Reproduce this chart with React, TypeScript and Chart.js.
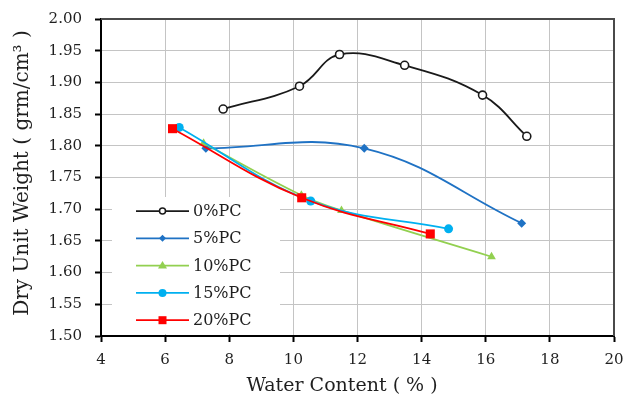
import React, { useEffect, useRef } from "react";
import { Chart, registerables } from "chart.js";
Chart.register(...registerables);

// ---- data ----
const seriesNames = ["0%PC", "5%PC", "10%PC", "15%PC", "20%PC"];
const water0 = [7.81, 10.19, 11.44, 13.47, 15.9, 17.28];
const dry0 = [1.858, 1.894, 1.944, 1.927, 1.88, 1.815];
const water5 = [7.27, 12.21, 17.12];
const dry5 = [1.796, 1.796, 1.678];
const water10 = [7.2, 10.25, 11.5, 16.18];
const dry10 = [1.804, 1.722, 1.698, 1.625];
const water15 = [6.44, 10.54, 14.84];
const dry15 = [1.829, 1.713, 1.669];
const water20 = [6.23, 10.26, 14.27];
const dry20 = [1.827, 1.718, 1.661];
const xTickValues = [4, 6, 8, 10, 12, 14, 16, 18, 20];
const yTickValues = [1.5, 1.55, 1.6, 1.65, 1.7, 1.75, 1.8, 1.85, 1.9, 1.95, 2.0];
const xTitle = "Water Content ( % )";
const yTitle = "Dry Unit Weight ( grm/cm\u00B3 )";

const colors = ["#1a1a1a", "#1f72c4", "#92D050", "#00B0F0", "#FF0000"];
const styles = ["circle", "rectRot", "triangle", "circle", "rect"];
const radii = [4, 4.5, 5, 4.5, 6.4];
const fills = ["#ffffff", "#1f72c4", "#92D050", "#00B0F0", "#FF0000"];

const toPts = (xs: number[], ys: number[]) => xs.map((x, i) => ({ x, y: ys[i] }));
const allData = [
  toPts(water0, dry0),
  toPts(water5, dry5),
  toPts(water10, dry10),
  toPts(water15, dry15),
  toPts(water20, dry20),
];

const FONT = "'DejaVu Serif', 'Liberation Serif', serif";
const TEXT = "#1f1f1f";

function drawMarker(ctx: CanvasRenderingContext2D, i: number, x: number, y: number) {
  ctx.save();
  ctx.fillStyle = fills[i];
  ctx.strokeStyle = colors[i];
  ctx.lineWidth = 1.5;
  ctx.beginPath();
  if (i === 0) {
    ctx.arc(x, y, 3, 0, Math.PI * 2);
    ctx.fill();
    ctx.stroke();
  } else if (i === 1) {
    ctx.moveTo(x, y - 3.5);
    ctx.lineTo(x + 3.5, y);
    ctx.lineTo(x, y + 3.5);
    ctx.lineTo(x - 3.5, y);
    ctx.closePath();
    ctx.fill();
  } else if (i === 2) {
    ctx.moveTo(x, y - 4.5);
    ctx.lineTo(x + 4.5, y + 3);
    ctx.lineTo(x - 4.5, y + 3);
    ctx.closePath();
    ctx.fill();
  } else if (i === 3) {
    ctx.arc(x, y, 4, 0, Math.PI * 2);
    ctx.fill();
  } else {
    ctx.rect(x - 4, y - 4, 8, 8);
    ctx.fill();
  }
  ctx.restore();
}

const framePlugin = {
  id: "frame",
  beforeDatasetsDraw(chart: any) {
    const { ctx, chartArea: a } = chart;
    ctx.save();
    ctx.strokeStyle = "#4a4a4a";
    ctx.lineWidth = 2;
    ctx.beginPath();
    ctx.moveTo(a.left, a.top);
    ctx.lineTo(a.right, a.top);
    ctx.lineTo(a.right, a.bottom);
    ctx.stroke();
    ctx.restore();
  },
};

const legendPlugin = {
  id: "insideLegend",
  afterDatasetsDraw(chart: any) {
    const { ctx, chartArea: a } = chart;
    ctx.save();
    ctx.fillStyle = "#ffffff";
    const bx = a.left + 11;
    const by = a.top + 178;
    ctx.fillRect(bx, by, 168, a.bottom - 2 - by);
    seriesNames.forEach((name, i) => {
      const y = a.top + 192 + i * 27.3;
      const x0 = a.left + 35;
      const x1 = a.left + 88;
      ctx.strokeStyle = colors[i];
      ctx.lineWidth = 1.75;
      ctx.beginPath();
      ctx.moveTo(x0, y);
      ctx.lineTo(x1, y);
      ctx.stroke();
      drawMarker(ctx, i, (x0 + x1) / 2, y);
      ctx.fillStyle = TEXT;
      ctx.font = `16px ${FONT}`;
      ctx.textBaseline = "middle";
      ctx.textAlign = "left";
      ctx.fillText(name, x1 + 4, y + 1);
    });
    ctx.restore();
  },
};

const titlePlugin = {
  id: "axisTitles",
  afterDraw(chart: any) {
    const { ctx, chartArea: a } = chart;
    ctx.save();
    ctx.fillStyle = TEXT;
    ctx.font = `19px ${FONT}`;
    ctx.textAlign = "center";
    ctx.textBaseline = "alphabetic";
    ctx.fillText(xTitle, a.left + 241, 391);
    ctx.font = `20px ${FONT}`;
    ctx.translate(28, a.top + 154);
    ctx.rotate(-Math.PI / 2);
    ctx.fillText(yTitle, 0, 0);
    ctx.restore();
  },
};

export default function App() {
  const ref = useRef<HTMLCanvasElement | null>(null);
  useEffect(() => {
    document.body.style.margin = "0";
    const canvas = ref.current!;
    const chart = new Chart(canvas, {
      type: "line",
      data: {
        datasets: seriesNames.map((name, i) => ({
          label: name,
          data: allData[i],
          borderColor: colors[i],
          backgroundColor: fills[i],
          borderWidth: 1.8,
          tension: 0.4,
          fill: false,
          pointStyle: styles[i] as any,
          pointRadius: radii[i],
          pointBorderColor: colors[i],
          pointBackgroundColor: fills[i],
          pointBorderWidth: i === 0 ? 1.6 : 0,
          order: 4 - i,
        })),
      },
      options: {
        animation: false,
        responsive: false,
        devicePixelRatio: 1,
        layout: { padding: { left: 0, top: 19, right: 11, bottom: 0 } },
        plugins: { legend: { display: false }, tooltip: { enabled: false } },
        scales: {
          x: {
            type: "linear",
            min: xTickValues[0],
            max: xTickValues[xTickValues.length - 1],
            afterBuildTicks: (s: any) => {
              s.ticks = xTickValues.map((v) => ({ value: v }));
            },
            afterFit: (s: any) => {
              s.height = 62;
              s.paddingLeft = 0;
              s.paddingRight = 0;
            },
            grid: {
              color: "#c4c4c4",
              lineWidth: 1,
              tickColor: "#000",
              tickLength: 6,
              tickWidth: 2,
            },
            border: { display: true, color: "#000", width: 2 },
            ticks: {
              color: TEXT,
              font: { family: FONT, size: 15 },
              padding: 9,
              maxRotation: 0,
              callback: (v: any) => String(v),
            },
          },
          y: {
            type: "linear",
            min: yTickValues[0],
            max: yTickValues[yTickValues.length - 1],
            afterBuildTicks: (s: any) => {
              s.ticks = yTickValues.map((v) => ({ value: v }));
            },
            afterFit: (s: any) => {
              s.width = 101;
              s.paddingTop = 0;
              s.paddingBottom = 0;
            },
            grid: {
              color: "#c4c4c4",
              lineWidth: 1,
              tickColor: "#000",
              tickLength: 6,
              tickWidth: 2,
            },
            border: { display: true, color: "#000", width: 2 },
            ticks: {
              color: TEXT,
              font: { family: FONT, size: 15 },
              padding: 13,
              callback: (v: any) => Number(v).toFixed(2),
            },
          },
        },
      },
      plugins: [framePlugin, legendPlugin, titlePlugin],
    });
    return () => chart.destroy();
  }, []);
  return (
    <div style={{ width: 625, height: 398, background: "#fff" }}>
      <canvas ref={ref} width={625} height={398} style={{ display: "block" }} />
    </div>
  );
}
